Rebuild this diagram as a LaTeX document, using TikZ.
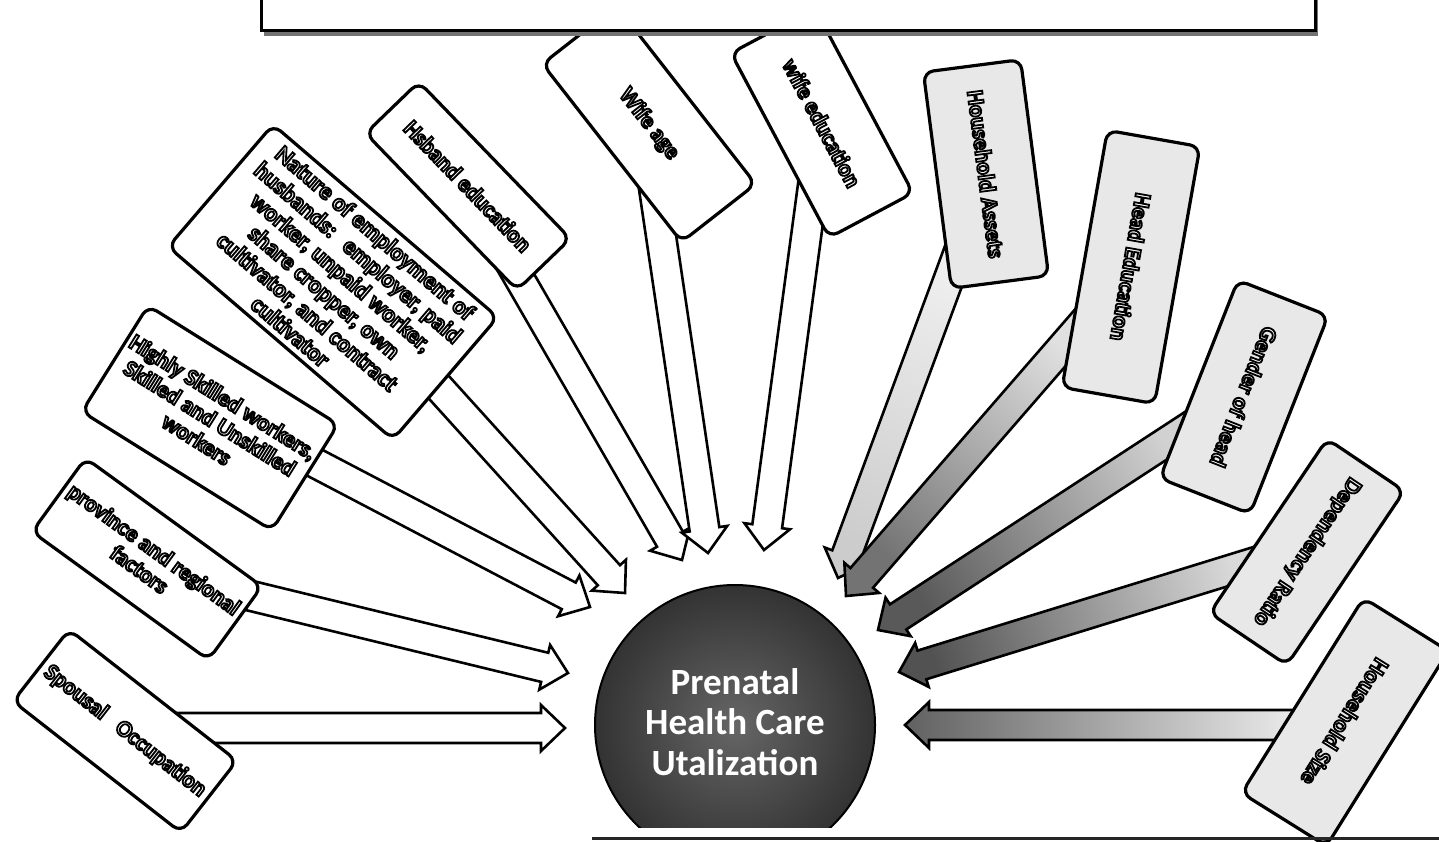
\documentclass[tikz,border=0pt]{standalone}
\usepackage{fontspec}
\setmainfont{Carlito}
\usetikzlibrary{calc}

% outlined text: white fill, black stroke
\newcommand\olw[2]{\special{pdf:code 2 Tr 0 G #1 w}#2\special{pdf:code 0 Tr}}
% block arrow: prefix, tail, tip, style
\newcommand\blockarrow[4]{%
  \coordinate (#1b) at ($(#3)!12pt!(#2)$);
  \path[#4] ($(#2)!7.5pt!90:(#3)$) -- ($(#1b)!7.5pt!90:(#3)$) -- ($(#1b)!11.5pt!90:(#3)$)
    -- (#3) -- ($(#1b)!11.5pt!-90:(#3)$) -- ($(#1b)!7.5pt!-90:(#3)$) -- ($(#2)!7.5pt!-90:(#3)$) -- cycle;
}

\begin{document}
\begin{tikzpicture}[x=0.5pt,y=-0.5pt,
  lbox/.style={draw=black, line width=1.6pt, rounded corners=5pt, fill=white, align=center,
    inner sep=2pt, text=white, font=\bfseries\fontsize{11.5}{12.5}\selectfont},
  gbox/.style={lbox, fill=black!9},
  warr/.style={draw=black, line width=1.3pt, fill=white, line join=miter},
  garr/.style n args={3}{draw=black, line width=1.3pt, line join=miter, shading=axis,
    top color=#1, bottom color=#2, shading angle=#3}]
\useasboundingbox (0,0) rectangle (1439,841);
\fill[white] (0,0) rectangle (1439,841);

% arrow end points
\coordinate (a1t) at (170,728);  \coordinate (a1h) at (565,728);
\coordinate (a2t) at (235,592);  \coordinate (a2h) at (568,673);
\coordinate (a3t) at (300,455);  \coordinate (a3h) at (590,607);
\coordinate (a4t) at (425,372);  \coordinate (a4h) at (625,593);
\coordinate (a5t) at (500,245);  \coordinate (a5h) at (682,560);
\coordinate (a6t) at (652,175);  \coordinate (a6h) at (708,553);
\coordinate (a7t) at (815,170);  \coordinate (a7h) at (764,550);
\coordinate (a8t) at (965,235);  \coordinate (a8h) at (838,578);
\coordinate (a9t) at (1090,315); \coordinate (a9h) at (846,596);
\coordinate (a10t) at (1200,420); \coordinate (a10h) at (878,630);
\coordinate (a11t) at (1262,560); \coordinate (a11h) at (899,672);
\coordinate (a12t) at (1310,725); \coordinate (a12h) at (905,725);

% arrows
\blockarrow{a1}{a1t}{a1h}{warr}
\blockarrow{a2}{a2t}{a2h}{warr}
\blockarrow{a3}{a3t}{a3h}{warr}
\blockarrow{a4}{a4t}{a4h}{warr}
\blockarrow{a5}{a5t}{a5h}{warr}
\blockarrow{a6}{a6t}{a6h}{warr}
\blockarrow{a7}{a7t}{a7h}{warr}
\blockarrow{a8}{a8t}{a8h}{garr={black!20}{black!6}{160}}
\blockarrow{a9}{a9t}{a9h}{garr={black!55}{black!12}{-221}}
\blockarrow{a10}{a10t}{a10h}{garr={black!65}{black!18}{-237}}
\blockarrow{a11}{a11t}{a11h}{garr={black!68}{black!15}{-253}}
\blockarrow{a12}{a12t}{a12h}{garr={black!62}{black!6}{90}}

% boxes
\node[lbox, minimum width=106.5pt, minimum height=45.5pt, rotate=-38] (spousal) at (125,731)
  {\olw{0.9}{Spousal\hspace{0.7em}Occupation}};
\node[lbox, minimum width=109pt, minimum height=45.5pt, rotate=-36] (province) at (147,559)
  {\olw{0.9}{province and regional\\factors}};
\node[lbox, minimum width=112pt, minimum height=62.5pt, rotate=-32] (skilled) at (210,418)
  {\olw{0.9}{Highly Skilled workers,\\Skilled and Unskilled\\workers}};
\node[lbox, minimum width=148pt, minimum height=80.5pt, rotate=-40.6,
  font=\bfseries\fontsize{12}{13}\selectfont] (nature) at (333,282)
  {\olw{0.9}{Nature of employment of\\husbands:\hspace{0.6em}employer, paid\\worker, unpaid worker,\\share cropper, own\\cultivator, and contract\\cultivator}};
\node[lbox, minimum width=109pt, minimum height=37pt, rotate=-46] (hsband) at (468,186)
  {\olw{0.9}{Hsband education}};
\node[lbox, minimum width=113pt, minimum height=47pt, rotate=-52] (wifeage) at (649,124)
  {\olw{0.9}{Wife age}};
\node[lbox, minimum width=104.5pt, minimum height=47.5pt, rotate=-62] (wifeedu) at (822,123)
  {\olw{0.9}{wife education}};
\node[gbox, minimum width=109pt, minimum height=49pt, rotate=-82.6] (assets) at (986,174)
  {\olw{0.9}{Household Assets}};
\node[gbox, minimum width=130.5pt, minimum height=47pt, rotate=-100] (headedu) at (1131,267)
  {\olw{0.9}{Head Education}};
\node[gbox, minimum width=106.5pt, minimum height=48.5pt, rotate=-111.5] (gender) at (1244,397)
  {\olw{0.9}{Gender of head}};
\node[gbox, minimum width=105pt, minimum height=46.5pt, rotate=-124] (depend) at (1307,552)
  {\olw{0.9}{Dependency Ratio}};
\node[gbox, minimum width=115pt, minimum height=50pt, rotate=-122] (hhsize) at (1345,722)
  {\olw{0.9}{Household Size}};

% top box (cut off)
\fill[black!55] (264,-20) rectangle (1318,36);
\node[draw=black, line width=1.3pt, fill=white, minimum width=527pt, minimum height=30pt,
  inner sep=0pt, anchor=south west] (topbox) at (260,32) {};

% central circle (flat bottom)
\begin{scope}
  \clip (580,560) rectangle (890,827);
  \node[circle, draw=black, line width=1pt, inner color=black!60, outer color=black!80,
    minimum size=140pt, inner sep=0pt] (hub) at (735,725) {};
\end{scope}
\node[text=white, align=center, font=\bfseries\fontsize{18.5}{20.25}\selectfont] (hubtext) at (735,722)
  {Prenatal\\Health Care\\Utalization};

% bottom rule
\draw[line width=1.5pt, black!85] (592,838) -- (1439,838);
\end{tikzpicture}
\end{document}
